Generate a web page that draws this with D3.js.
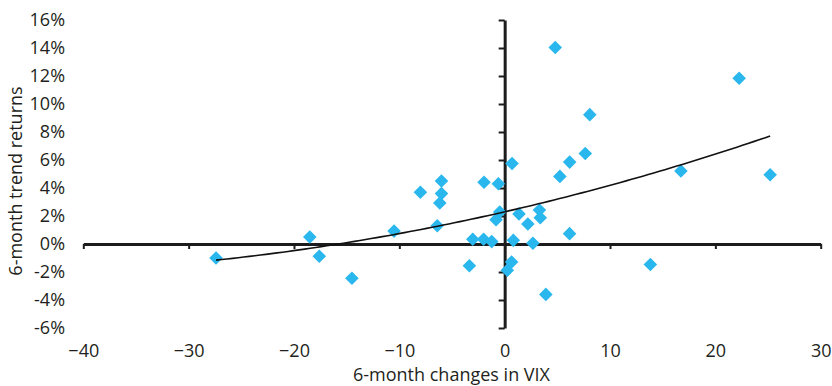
<!DOCTYPE html>
<html>
<head>
<meta charset="utf-8">
<script src="https://cdn.jsdelivr.net/npm/d3@7"></script>
<style>
  body { margin: 0; background: #fff; }
  text { font-family: "Open Sans", sans-serif; fill: #231f20; }
</style>
</head>
<body>
<div id="chart"></div>
<script>
// 6-month change in VIX (x) vs 6-month trend return in % (y)
const vixChange = [-27.4, -18.5, -17.6, -14.5, -10.5, -8.0, -6.4, -6.0, -6.0, -6.16,
  -3.35, -3.03, -2.0, -1.96, -1.23, -0.6, -0.47, -0.82, 0.7,
  0.82, 0.66, 0.25, 1.36, 2.2, 2.68, 3.3, 3.38, 3.91, 4.8,
  5.24, 6.17, 6.16, 7.65, 8.08, 13.83, 16.73, 22.26, 25.2];
const trendReturn = [-1.0, 0.5, -0.87, -2.45, 0.92, 3.7, 1.3, 4.5, 3.6, 2.93,
  -1.55, 0.34, 0.34, 4.41, 0.17, 4.31, 2.29, 1.74, 5.75,
  0.26, -1.28, -1.88, 2.15, 1.43, 0.05, 2.43, 1.87, -3.6, 14.03,
  4.83, 5.85, 0.74, 6.47, 9.24, -1.47, 5.22, 11.84, 4.95];

const xTicks = [-40, -30, -20, -10, 0, 10, 20, 30];
const yTicks = [-6, -4, -2, 0, 2, 4, 6, 8, 10, 12, 14, 16];

function chart() {
    const width = 832, height = 386;

    const svg = d3.select("#chart").append("svg")
        .attr("width", width)
        .attr("height", height);

    const x = d3.scaleLinear().domain([-40, 30]).range([83.3, 820.7]);
    const y = d3.scaleLinear().domain([-6, 16]).range([328, 20]);

    const points = vixChange.map((v, i) => ({ x: v, y: trendReturn[i] }));

    // quadratic least-squares trendline
    let s = [0, 0, 0, 0, 0], t = [0, 0, 0];
    points.forEach(p => {
        for (let k = 0; k < 5; k++) s[k] += Math.pow(p.x, k);
        for (let k = 0; k < 3; k++) t[k] += Math.pow(p.x, k) * p.y;
    });
    const A = [[s[0], s[1], s[2]], [s[1], s[2], s[3]], [s[2], s[3], s[4]]];
    const det = m => m[0][0] * (m[1][1] * m[2][2] - m[1][2] * m[2][1])
        - m[0][1] * (m[1][0] * m[2][2] - m[1][2] * m[2][0])
        + m[0][2] * (m[1][0] * m[2][1] - m[1][1] * m[2][0]);
    const D = det(A);
    const coef = [0, 1, 2].map(c => det(A.map((row, r) => row.map((v, j) => j === c ? t[r] : v))) / D);
    const xs = d3.extent(vixChange);
    const fit = d3.range(0, 101).map(i => {
        const xv = xs[0] + (xs[1] - xs[0]) * i / 100;
        return { x: xv, y: coef[0] + coef[1] * xv + coef[2] * xv * xv };
    });

    // axes crossing at zero
    const xAxis = svg.append("g")
        .attr("transform", "translate(0," + y(0) + ")")
        .call(d3.axisBottom(x).tickValues(xTicks).tickSizeInner(5).tickSizeOuter(0)
            .tickPadding(95));
    const yAxis = svg.append("g")
        .attr("transform", "translate(" + x(0) + ",0)")
        .call(d3.axisLeft(y).tickValues(yTicks).tickSizeInner(6).tickSizeOuter(0)
            .tickPadding(x(0) - 65 - 6).tickFormat(d => d + "%"));

    [xAxis, yAxis].forEach(g => {
        g.select(".domain").attr("stroke", "#1c1c1c").attr("stroke-width", 3);
        g.selectAll(".tick line").attr("stroke", "#1c1c1c").attr("stroke-width", 2);
        g.selectAll(".tick text").attr("font-size", 18).attr("font-family", "Open Sans").attr("fill", "#231f20");
    });

    // points
    svg.append("g").selectAll("path")
        .data(points)
        .join("path")
        .attr("d", d3.symbol(d3.symbolSquare, 92))
        .attr("transform", d => "translate(" + x(d.x) + "," + y(d.y) + ") rotate(45)")
        .attr("fill", "#29b7ee");

    // trendline
    svg.append("path")
        .datum(fit)
        .attr("d", d3.line().x(d => x(d.x)).y(d => y(d.y)))
        .attr("fill", "none")
        .attr("stroke", "#111")
        .attr("stroke-width", 1.6);

    // axis titles
    svg.append("text")
        .attr("x", 451.5).attr("y", 381)
        .attr("text-anchor", "middle")
        .attr("font-size", 18)
        .text("6-month changes in VIX");

    svg.append("text")
        .attr("transform", "translate(22,181) rotate(-90)")
        .attr("text-anchor", "middle")
        .attr("font-size", 18)
        .text("6-month trend returns");
}

chart();
</script>
</body>
</html>
